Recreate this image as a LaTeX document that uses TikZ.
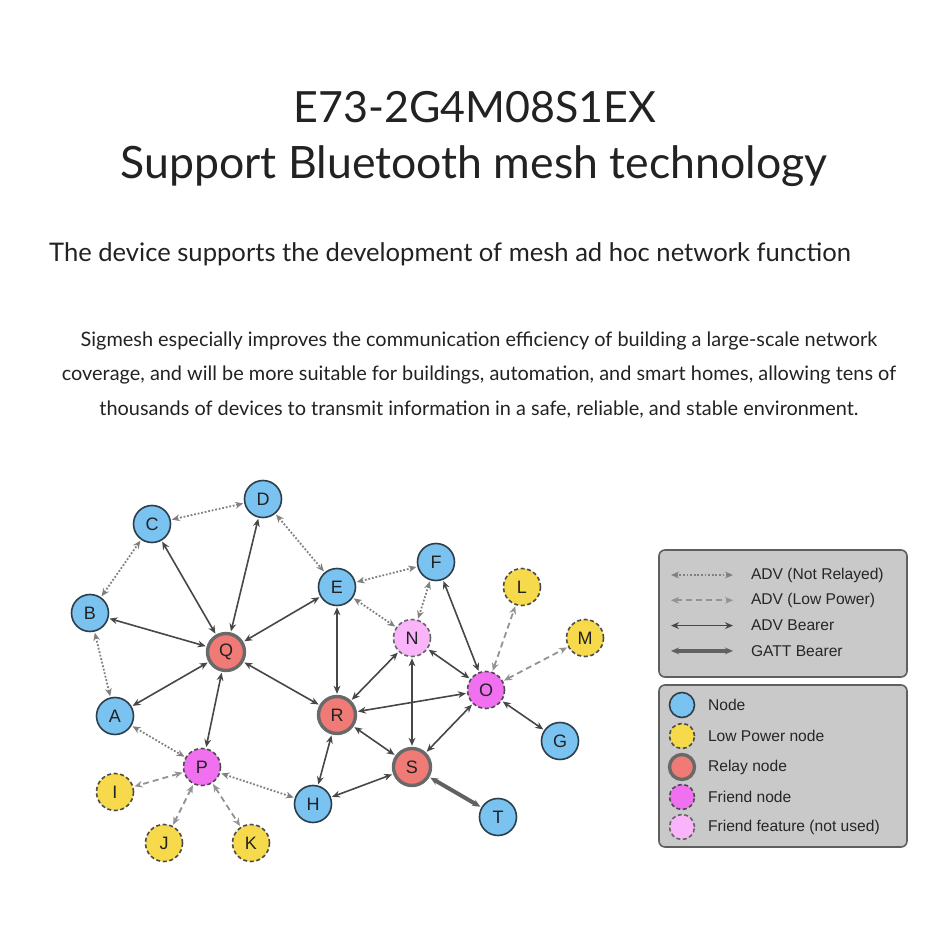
\documentclass[tikz,border=0pt]{standalone}
\usepackage{fontspec}
\setmainfont{Lato}
\newfontfamily\arialfont{Liberation Sans}
\usetikzlibrary{arrows.meta}
\definecolor{nodeblue}{RGB}{122,194,240}
\definecolor{edgeblue}{RGB}{45,62,75}
\definecolor{lpyellow}{RGB}{247,217,76}
\definecolor{relayred}{RGB}{240,122,117}
\definecolor{relayedge}{RGB}{105,105,105}
\definecolor{friendmag}{RGB}{240,112,240}
\definecolor{friendpink}{RGB}{250,180,250}
\definecolor{legendgray}{RGB}{201,201,201}
\definecolor{legendedge}{RGB}{95,95,95}
\definecolor{textdark}{RGB}{34,34,34}
\begin{document}
\begin{tikzpicture}[x=0.5pt, y=-0.5pt, >={Stealth[length=4pt,width=3.4pt]},
    every node/.style={font=\arialfont\fontsize{9}{10}\selectfont, text=textdark},
    mnode/.style={circle, minimum size=18.5pt, inner sep=0pt, line width=0.8pt},
    plain/.style={mnode, draw=edgeblue, fill=nodeblue},
    lowpow/.style={mnode, draw=black!70, dash pattern=on 2pt off 1.3pt, fill=lpyellow},
    relay/.style={mnode, draw=relayedge, line width=1.7pt, fill=relayred},
    friend/.style={mnode, draw=black!70, dash pattern=on 2pt off 1.3pt, fill=friendmag},
    friendoff/.style={mnode, draw=black!60, dash pattern=on 2pt off 1.3pt, fill=friendpink},
    notrel/.style={<->, gray, line width=0.9pt, dash pattern=on 0.9pt off 0.9pt, shorten <=0.5pt, shorten >=0.5pt},
    lowlink/.style={<->, gray!85, line width=0.9pt, dash pattern=on 3pt off 2pt, shorten <=0.5pt, shorten >=0.5pt},
    bearer/.style={<->, black!72, line width=0.8pt, shorten <=0.5pt, shorten >=0.5pt},
    gatt/.style={<->, black!62, line width=2pt, shorten <=0.5pt, shorten >=0.5pt},
    legbox/.style={draw=legendedge, fill=legendgray, line width=0.8pt, rounded corners=3pt},
    legtext/.style={anchor=west, font=\arialfont\fontsize{7.8}{9}\selectfont, text=black!85},
    legdot/.style={minimum size=12.5pt}
  ]
  \useasboundingbox (0,0) rectangle (950,947);

  % headings
  \node[font=\fontsize{21.5}{24}\selectfont] (title) at (475,107) {E73-2G4M08S1EX};
  \node[font=\fontsize{22.3}{24}\selectfont] (slogan) at (474,166) {Support Bluetooth mesh technology};
  \node[font=\fontsize{12.8}{14}\selectfont] (intro) at (450,254) {The device supports the development of mesh ad hoc network function};
  \node[font=\fontsize{9.95}{17.25}\selectfont, align=center] (detail) at (479,375)
    {Sigmesh especially improves the communication efficiency of building a large-scale network\\
     coverage, and will be more suitable for buildings, automation, and smart homes, allowing tens of\\
     thousands of devices to transmit information in a safe, reliable, and stable environment.};

  % mesh nodes
  \node[plain]     (C) at (152,524) {C};
  \node[plain]     (D) at (263,499) {D};
  \node[plain]     (B) at (90,613)  {B};
  \node[plain]     (E) at (337,587) {E};
  \node[plain]     (F) at (436,562) {F};
  \node[lowpow]    (L) at (522,587) {L};
  \node[lowpow]    (M) at (585,638) {M};
  \node[relay]     (Q) at (226,652) {Q};
  \node[friendoff] (N) at (412,638) {N};
  \node[friend]    (O) at (486,690) {O};
  \node[relay]     (R) at (337,715) {R};
  \node[plain]     (A) at (115,716) {A};
  \node[plain]     (G) at (560,741) {G};
  \node[friend]    (P) at (202,767) {P};
  \node[relay]     (S) at (412,767) {S};
  \node[lowpow]    (I) at (115,792) {I};
  \node[plain]     (H) at (313,804) {H};
  \node[plain]     (T) at (498,817) {T};
  \node[lowpow]    (J) at (164,843) {J};
  \node[lowpow]    (K) at (251,843) {K};

  % links
  \foreach \u/\v in {C/D, B/C, D/E, E/F, E/N, F/N, A/B, A/P, P/H}
    \draw[notrel] (\u) -- (\v);
  \foreach \u/\v in {O/L, O/M, P/I, P/J, P/K}
    \draw[lowlink] (\u) -- (\v);
  \foreach \u/\v in {Q/C, Q/D, Q/B, Q/E, Q/A, Q/P, Q/R, E/R, N/R, N/S, N/O, F/O, O/R, O/S, O/G, R/S, R/H, S/H}
    \draw[bearer] (\u) -- (\v);
  \draw[gatt] (S) -- (T);

  % legend: links
  \draw[legbox] (659,550) rectangle (907,677);
  \foreach \sty/\txt [count=\i] in {notrel/ADV (Not Relayed), lowlink/ADV (Low Power), bearer/ADV Bearer, gatt/GATT Bearer} {
    \coordinate (ka\i) at (671,{549.7+25.3*\i});
    \coordinate (kb\i) at (733,{549.7+25.3*\i});
    \draw[\sty, shorten <=0pt, shorten >=0pt] (ka\i) -- (kb\i);
    \node[legtext] (lt\i) at (744,{549.7+25.3*\i}) {\txt};
  }

  % legend: nodes
  \draw[legbox] (659,685) rectangle (907,847);
  \foreach \sty/\txt/\y [count=\i] in {plain/Node/705, lowpow/Low Power node/736, relay/Relay node/767, friend/Friend node/797, friendoff/Friend feature (not used)/827} {
    \node[\sty, legdot] (kd\i) at (682,\y) {};
    \node[legtext] (ld\i) at (701,\y) {\txt};
  }
\end{tikzpicture}
\end{document}
